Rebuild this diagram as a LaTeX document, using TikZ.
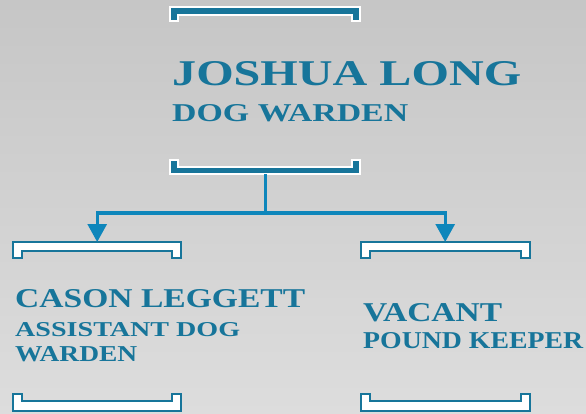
\documentclass[tikz,border=0pt]{standalone}
\usepackage{fontspec}
\setmainfont{Liberation Serif}
\usetikzlibrary{arrows.meta}
\definecolor{teal1}{HTML}{17759A}
\definecolor{conn}{HTML}{0E86BB}
\definecolor{bgtop}{HTML}{C6C6C6}
\definecolor{bgbot}{HTML}{DDDDDD}
\tikzset{
  darkbracket/.style={fill=teal1, draw=white, line width=2pt, line join=miter},
  lightbracket/.style={fill=white, draw=teal1, line width=2.2pt, line join=miter},
  conline/.style={draw=conn, line width=3pt},
  conarrow/.style={conline, -{Triangle[width=19pt,length=18pt]}},
  boxarea/.style={draw=none, inner sep=0pt, minimum width=#1},
  txt/.style={anchor=south west, inner sep=0pt, text=teal1, font=\bfseries}
}
\newcommand{\fitxt}[3]{\resizebox{#1pt}{#2pt}{#3}}
\begin{document}
\begin{tikzpicture}[x=1pt,y=-1pt]
\shade[top color=bgtop, bottom color=bgbot] (0,0) rectangle (586,414);
\useasboundingbox (0,0) rectangle (586,414);
% invisible box nodes
\node[boxarea=190pt, minimum height=167pt, anchor=north west] (top) at (170,7) {};
\node[boxarea=168pt, minimum height=169pt, anchor=north west] (left) at (13,242) {};
\node[boxarea=169pt, minimum height=169pt, anchor=north west] (right) at (361,242) {};
% top node brackets
\draw[darkbracket] (170,7) -- (360,7) -- (360,21) -- (352,21) -- (352,15) -- (178,15) -- (178,21) -- (170,21) -- cycle;
\draw[darkbracket] (170,174) -- (360,174) -- (360,160) -- (352,160) -- (352,167) -- (178,167) -- (178,160) -- (170,160) -- cycle;
% left node brackets
\draw[lightbracket] (13,242) -- (181,242) -- (181,258) -- (172,258) -- (172,251) -- (22,251) -- (22,258) -- (13,258) -- cycle;
\draw[lightbracket] (13,411) -- (181,411) -- (181,394) -- (172,394) -- (172,401) -- (22,401) -- (22,394) -- (13,394) -- cycle;
% right node brackets
\draw[lightbracket] (361,242) -- (530,242) -- (530,258) -- (521,258) -- (521,251) -- (370,251) -- (370,258) -- (361,258) -- cycle;
\draw[lightbracket] (361,411) -- (530,411) -- (530,394) -- (521,394) -- (521,401) -- (370,401) -- (370,394) -- (361,394) -- cycle;
% connectors
\coordinate (junc) at (265,213);
\draw[conline] (top.south -| junc) -- (junc);
\draw[conarrow] (junc) -| (left.north);
\draw[conarrow] (junc) -| ([xshift=-0.5pt]right.north);
% texts
\node[txt] (t1) at (172,86) {\fitxt{349}{24}{JOSHUA LONG}};
\node[txt] (t2) at (172,122) {\fitxt{236}{17}{DOG WARDEN}};
\node[txt] (l1) at (15,308) {\fitxt{290}{18}{CASON LEGGETT}};
\node[txt] (l2) at (15,337) {\fitxt{225}{14}{ASSISTANT DOG}};
\node[txt] (l3) at (15,362) {\fitxt{122}{15}{WARDEN}};
\node[txt] (r1) at (363,322) {\fitxt{139}{18}{VACANT}};
\node[txt] (r2) at (363,349) {\fitxt{220}{16}{POUND KEEPER}};
\end{tikzpicture}
\end{document}
